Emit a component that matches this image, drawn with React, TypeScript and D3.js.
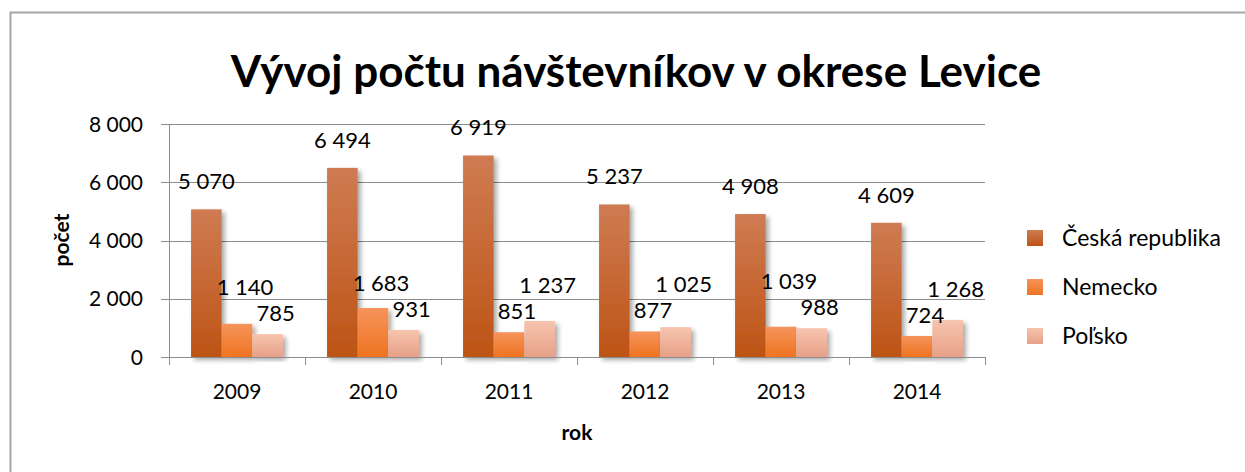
import React from 'react'
import * as d3 from 'd3'

const years = ['2009', '2010', '2011', '2012', '2013', '2014']
const series = ['Česká republika', 'Nemecko', 'Poľsko']
const ceska = [5070, 6494, 6919, 5237, 4908, 4609]
const nemecko = [1140, 1683, 851, 877, 1039, 724]
const polsko = [785, 931, 1237, 1025, 988, 1268]
const yTicks = [0, 2000, 4000, 6000, 8000]

const values = [ceska, nemecko, polsko]
// top / bottom colours of each bar gradient
const colors = [
  ['#cf7b53', '#bd5415'],
  ['#f5945c', '#ee7420'],
  ['#f6c4ae', '#e7a088'],
]

const width = 1245
const height = 472
const plot = { left: 169, right: 985, top: 124, bottom: 357 }
const font = 'Lato, "Open Sans", sans-serif'
const labelH = 26

const fmt = (v: number) => d3.format(',')(v).replace(/,/g, ' ')

export default function App() {
  const x0 = d3.scaleBand().domain(years).range([plot.left, plot.right])
  const x1 = d3.scaleBand().domain(series).range([0, x0.bandwidth()]).paddingOuter(0.72)
  const y = d3.scaleLinear().domain([0, 8000]).range([plot.bottom, plot.top])

  const bars = years.map((yr, i) => (
    <g key={yr} transform={'translate(' + x0(yr) + ',0)'}>
      {series.map((s, k) => {
        const v = values[k][i]
        return (
          <rect
            key={s}
            x={x1(s)}
            y={y(v)}
            width={x1.bandwidth()}
            height={y(0) - y(v)}
            fill={'url(#grad' + k + ')'}
            filter='url(#shadow)'
          />
        )
      })}
    </g>
  ))

  // label centres, pushing the taller of the two small bars' labels up if they collide
  const labels = years.map((yr, i) => {
    const cy = series.map((s, k) => y(values[k][i]) - (k === 0 ? 28 : 21))
    if (Math.abs(cy[1] - cy[2]) < labelH) {
      const hi = values[1][i] > values[2][i] ? 1 : 2
      const lo = hi === 1 ? 2 : 1
      cy[hi] = cy[lo] - labelH
    }
    return (
      <g key={yr} transform={'translate(' + x0(yr) + ',0)'}>
        {series.map((s, k) => (
          <text
            key={s}
            x={(x1(s) as number) + x1.bandwidth() / 2 + (k === 0 ? 0 : 8)}
            y={cy[k] + 8}
            textAnchor='middle'
            fontSize={22}
            fill='#000'
          >
            {fmt(values[k][i])}
          </text>
        ))}
      </g>
    )
  })

  return (
    <svg
      width={width}
      height={height}
      style={{ position: 'absolute', left: 0, top: 0, fontFamily: font, background: '#fff' }}
    >
      <defs>
        {colors.map((c, k) => (
          <linearGradient key={k} id={'grad' + k} x1='0' y1='0' x2='0' y2='1'>
            <stop offset='0%' stopColor={c[0]} />
            <stop offset='100%' stopColor={c[1]} />
          </linearGradient>
        ))}
        <filter id='shadow' x='-20%' y='-10%' width='150%' height='130%'>
          <feGaussianBlur in='SourceAlpha' stdDeviation='2.5' />
          <feOffset dx='3' dy='3' result='blur' />
          <feComponentTransfer>
            <feFuncA type='linear' slope='0.35' />
          </feComponentTransfer>
          <feMerge>
            <feMergeNode />
            <feMergeNode in='SourceGraphic' />
          </feMerge>
        </filter>
      </defs>

      <rect x={10.5} y={12.5} width={width} height={height} fill='#fff' stroke='#a6a6a6' strokeWidth={2} />

      <text x={636} y={87} textAnchor='middle' fontSize={44} fontWeight='bold' fill='#000'>
        Vývoj počtu návštevníkov v okrese Levice
      </text>

      {/* gridlines */}
      {yTicks.slice(1).map(t => (
        <line key={t} x1={plot.left - 8} x2={plot.right} y1={Math.round(y(t)) + 0.5} y2={Math.round(y(t)) + 0.5} stroke='#8c8c8c' />
      ))}

      {/* y axis */}
      <line x1={plot.left + 0.5} x2={plot.left + 0.5} y1={plot.top} y2={plot.bottom + 8} stroke='#8c8c8c' />
      <line x1={plot.left - 8} x2={plot.left} y1={plot.bottom + 0.5} y2={plot.bottom + 0.5} stroke='#8c8c8c' />
      {yTicks.map(t => (
        <text key={t} x={143} y={y(t) + 7.5} textAnchor='end' fontSize={21} fill='#000'>
          {fmt(t)}
        </text>
      ))}

      {bars}

      {/* x axis */}
      <line x1={plot.left} x2={plot.right} y1={plot.bottom + 0.5} y2={plot.bottom + 0.5} stroke='#8c8c8c' />
      {years.map(yr => (
        <line key={yr} x1={(x0(yr) as number) + x0.bandwidth() + 0.5} x2={(x0(yr) as number) + x0.bandwidth() + 0.5} y1={plot.bottom} y2={plot.bottom + 8} stroke='#8c8c8c' />
      ))}
      {years.map(yr => (
        <text key={yr} x={(x0(yr) as number) + x0.bandwidth() / 2} y={399} textAnchor='middle' fontSize={21} fill='#000'>
          {yr}
        </text>
      ))}

      {labels}

      <text x={(plot.left + plot.right) / 2} y={440} textAnchor='middle' fontSize={21} fontWeight='bold' fill='#000'>
        rok
      </text>
      <text
        x={0}
        y={0}
        transform={'translate(' + 69 + ',' + 240 + ') rotate(-90)'}
        textAnchor='middle'
        fontSize={21}
        fontWeight='bold'
        fill='#000'
      >
        počet
      </text>

      {/* legend */}
      {series.map((s, k) => (
        <g key={s} transform={'translate(1027,' + (230 + k * 49) + ')'}>
          <rect width={16} height={16} fill={'url(#grad' + k + ')'} />
          <text x={35} y={16} fontSize={23} fill='#000'>
            {s}
          </text>
        </g>
      ))}
    </svg>
  )
}
